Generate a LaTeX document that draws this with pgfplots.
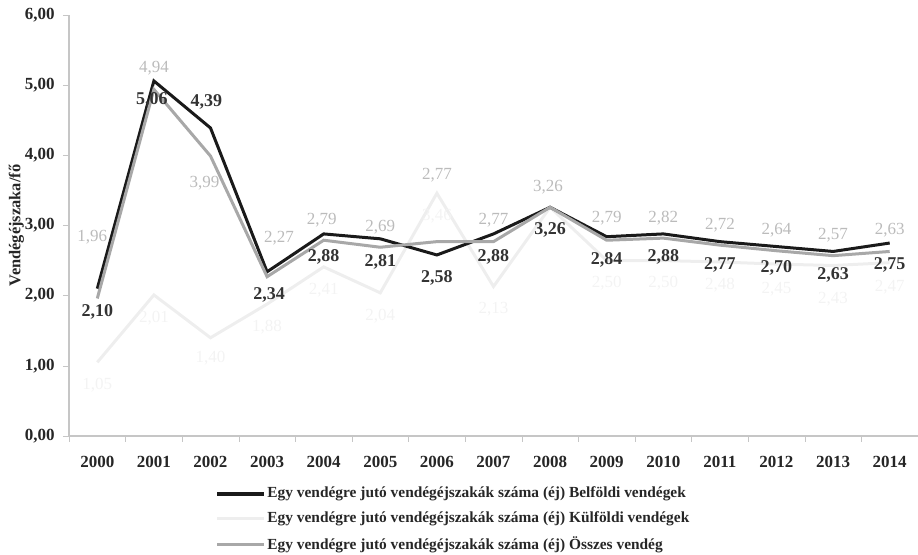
\documentclass[border=0pt]{standalone}
\usepackage{pgfplots}
\pgfplotsset{compat=1.18}
\usepackage{pgfplotstable}
\usepackage{fontspec}
\setmainfont{Liberation Serif}
\definecolor{belf}{HTML}{1A1A1A}
\definecolor{ossz}{HTML}{A8A8A8}
\definecolor{kulf}{HTML}{EEEEEE}
\definecolor{belflab}{HTML}{333333}
\definecolor{osszlab}{HTML}{BBBBBB}
\definecolor{kulflab}{HTML}{F3F3F3}

% Belföldi vendégek
\pgfplotstableread{
x y dx dy
0 2.10 0 -11.5
1 5.06 -1 -9.6
2 4.39 -2 13
3 2.34 1 -11.7
4 2.88 0 -11.5
5 2.81 0 -11.5
6 2.58 0 -11.5
7 2.88 0 -11.5
8 3.26 0 -11.5
9 2.84 0 -11.5
10 2.88 0 -11.5
11 2.77 0 -11.7
12 2.70 0 -10.8
13 2.63 0 -11.8
14 2.75 0 -11
}\belf

% Külföldi vendégek
\pgfplotstableread{
x y dx dy
0 1.05 0 -11.5
1 2.01 0 -11.5
2 1.40 0 -10
3 1.88 0 -11.5
4 2.41 0 -11.5
5 2.04 0 -11.5
6 3.46 0 -11.5
7 2.13 0 -11.5
8 3.26 0 -11.5
9 2.50 0 -11.5
10 2.50 0 -11.5
11 2.48 0 -11.5
12 2.45 0 -12.5
13 2.43 0 -17
14 2.47 0 -12.5
}\kulf

% Összes vendég
\pgfplotstableread{
x y dx dy
0 1.96 -2.5 30.5
1 4.94 0 10.6
2 3.99 -3 -13.6
3 2.27 6 19.3
4 2.79 -1 10
5 2.69 0 10.2
6 2.77 0 33
7 2.77 0 10.7
8 3.26 -1 10.2
9 2.79 0 10.9
10 2.82 0 10
11 2.72 0 10
12 2.64 0 10.3
13 2.57 0 10.3
14 2.63 0 10.7
}\ossz

\begin{document}
\begin{tikzpicture}
\path[use as bounding box] (-34.5pt,-59.5pt) rectangle (424.5pt,218pt);
\begin{axis}[
  at={(0,0)}, anchor=south west,
  scale only axis, width=424.5pt, height=210.5pt,
  xmin=-0.5, xmax=14.5, ymin=0, ymax=6,
  axis x line*=bottom, axis y line*=left,
  axis line style={draw=gray!45, line width=0.6pt},
  xtick={0,...,14},
  xticklabels={2000,2001,2002,2003,2004,2005,2006,2007,2008,2009,2010,2011,2012,2013,2014},
  major x tick style={draw=none},
  minor xtick={-0.5,0.5,...,14.5},
  minor x tick style={draw=gray!45},
  minor tick length=3pt,
  ytick={0,1,...,6},
  major y tick style={draw=gray!45},
  major tick length=3pt,
  tick align=outside,
  /pgf/number format/.cd, fixed, fixed zerofill, precision=2, use comma, assume math mode=true,
  /pgfplots/.cd,
  tick label style={font=\bfseries\fontsize{8.5}{10}\selectfont, text=black!85},
  yticklabel style={inner sep=0pt, xshift=-4pt},
  xticklabel style={inner sep=0pt, yshift=-7pt},
  ylabel={Vendégéjszaka/fő},
  ylabel style={font=\bfseries\fontsize{8.2}{10}\selectfont, text=black!85, at={(axis description cs:-0.062,0.5)}, anchor=center},
  clip=false,
  legend style={at={(axis description cs:0.172,-0.117)}, anchor=north west, draw=none, fill=none,
    inner sep=0pt, row sep=4.6pt, font=\bfseries\fontsize{7.7}{9}\selectfont, text=black!85,
    nodes={inner sep=0.5pt}},
  legend cell align=left,
  legend image code/.code={\draw[#1] (0pt,0pt) -- (23.5pt,0pt);},
]
\addlegendimage{belf, line width=2pt}
\addlegendentry{Egy vendégre jutó vendégéjszakák száma (éj) Belföldi vendégek}
\addlegendimage{kulf, line width=1.8pt}
\addlegendentry{Egy vendégre jutó vendégéjszakák száma (éj) Külföldi vendégek}
\addlegendimage{ossz, line width=1.6pt}
\addlegendentry{Egy vendégre jutó vendégéjszakák száma (éj) Összes vendég}

\addplot[kulf, line width=1.5pt, mark=none, forget plot,
  point meta=y, nodes near coords,
  visualization depends on={\thisrow{dx}\as\dx},
  visualization depends on={\thisrow{dy}\as\dy},
  nodes near coords style={anchor=center, xshift=\dx pt, yshift=\dy pt, font=\fontsize{8.5}{10}\selectfont, text=kulflab}]
  table[x=x, y=y] {\kulf};
\addplot[belf, line width=1.5pt, mark=none, forget plot,
  point meta=y, nodes near coords,
  visualization depends on={\thisrow{dx}\as\dx},
  visualization depends on={\thisrow{dy}\as\dy},
  nodes near coords style={anchor=center, xshift=\dx pt, yshift=\dy pt, font=\bfseries\fontsize{9}{10}\selectfont, text=belflab}]
  table[x=x, y=y] {\belf};
\addplot[ossz, line width=1.5pt, mark=none, forget plot,
  point meta=y, nodes near coords,
  visualization depends on={\thisrow{dx}\as\dx},
  visualization depends on={\thisrow{dy}\as\dy},
  nodes near coords style={anchor=center, xshift=\dx pt, yshift=\dy pt, font=\fontsize{8.5}{10}\selectfont, text=osszlab}]
  table[x=x, y=y] {\ossz};
\end{axis}
\end{tikzpicture}
\end{document}
